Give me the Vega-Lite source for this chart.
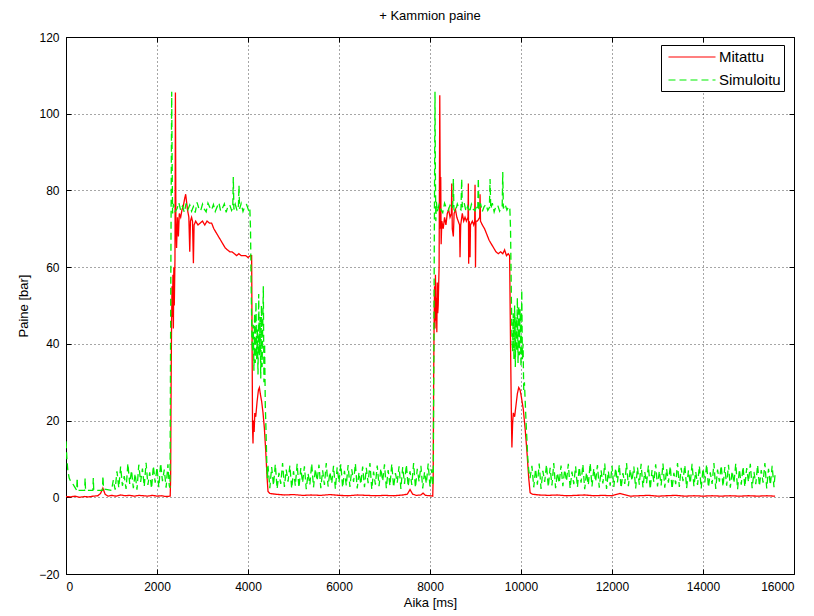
{
  "$schema": "https://vega.github.io/schema/vega-lite/v6.json",
  "width": 728,
  "height": 537,
  "autosize": {"type": "none"},
  "padding": {"left": 66, "top": 37, "right": 20, "bottom": 42},
  "background": "white",
  "title": {"text": "+ Kammion paine", "fontSize": 13, "fontWeight": "normal", "font": "Liberation Sans", "color": "black", "offset": 8},
  "config": {
    "view": {"stroke": "black", "strokeWidth": 1},
    "axis": {
      "domain": false,
      "tickColor": "black",
      "tickSize": -5,
      "labelPadding": 12,
      "labelFont": "Liberation Sans",
      "labelFontSize": 12,
      "labelColor": "black",
      "titleFont": "Liberation Sans",
      "titleFontSize": 13,
      "titleFontWeight": "normal",
      "titleColor": "black",
      "grid": true,
      "gridColor": "black",
      "gridDash": [1, 3],
      "gridOpacity": 0.7
    }
  },
  "data": {"values": [
    {"s":"Mitattu","t":0,"p":0.2},{"s":"Mitattu","t":100,"p":0.1},{"s":"Mitattu","t":200,"p":0.3},{"s":"Mitattu","t":300,"p":0.0},{"s":"Mitattu","t":400,"p":0.2},{"s":"Mitattu","t":500,"p":0.1},{"s":"Mitattu","t":600,"p":0.3},{"s":"Mitattu","t":700,"p":0.4},{"s":"Mitattu","t":760,"p":1.0},{"s":"Mitattu","t":810,"p":2.4},{"s":"Mitattu","t":860,"p":0.8},{"s":"Mitattu","t":920,"p":0.3},{"s":"Mitattu","t":1000,"p":0.5},{"s":"Mitattu","t":1100,"p":0.3},{"s":"Mitattu","t":1200,"p":0.6},{"s":"Mitattu","t":1300,"p":0.4},{"s":"Mitattu","t":1400,"p":0.5},{"s":"Mitattu","t":1500,"p":0.3},{"s":"Mitattu","t":1600,"p":0.5},{"s":"Mitattu","t":1700,"p":0.4},{"s":"Mitattu","t":1800,"p":0.3},{"s":"Mitattu","t":1900,"p":0.5},{"s":"Mitattu","t":2000,"p":0.3},{"s":"Mitattu","t":2100,"p":0.4},{"s":"Mitattu","t":2200,"p":0.2},{"s":"Mitattu","t":2290,"p":0.3},
    {"s":"Mitattu","t":2300,"p":5},{"s":"Mitattu","t":2310,"p":30},{"s":"Mitattu","t":2320,"p":45},{"s":"Mitattu","t":2330,"p":55},{"s":"Mitattu","t":2340,"p":47},{"s":"Mitattu","t":2350,"p":58},{"s":"Mitattu","t":2360,"p":44},{"s":"Mitattu","t":2370,"p":60},{"s":"Mitattu","t":2380,"p":50},{"s":"Mitattu","t":2395,"p":62},{"s":"Mitattu","t":2405,"p":105.5},{"s":"Mitattu","t":2415,"p":72},{"s":"Mitattu","t":2430,"p":65},{"s":"Mitattu","t":2450,"p":73},{"s":"Mitattu","t":2470,"p":68},{"s":"Mitattu","t":2490,"p":74},{"s":"Mitattu","t":2520,"p":73},{"s":"Mitattu","t":2550,"p":75},{"s":"Mitattu","t":2580,"p":76},{"s":"Mitattu","t":2610,"p":78},{"s":"Mitattu","t":2630,"p":79},{"s":"Mitattu","t":2650,"p":77},{"s":"Mitattu","t":2670,"p":75},{"s":"Mitattu","t":2700,"p":73},{"s":"Mitattu","t":2720,"p":64},{"s":"Mitattu","t":2735,"p":72},{"s":"Mitattu","t":2760,"p":73},{"s":"Mitattu","t":2780,"p":72},{"s":"Mitattu","t":2800,"p":61},{"s":"Mitattu","t":2815,"p":71},{"s":"Mitattu","t":2850,"p":72},{"s":"Mitattu","t":2900,"p":71},{"s":"Mitattu","t":2950,"p":71.5},{"s":"Mitattu","t":3000,"p":72},{"s":"Mitattu","t":3050,"p":71},{"s":"Mitattu","t":3100,"p":72},{"s":"Mitattu","t":3150,"p":71.5},{"s":"Mitattu","t":3200,"p":71.5},{"s":"Mitattu","t":3250,"p":70},{"s":"Mitattu","t":3300,"p":69},{"s":"Mitattu","t":3350,"p":68},{"s":"Mitattu","t":3400,"p":67},{"s":"Mitattu","t":3450,"p":66},{"s":"Mitattu","t":3500,"p":65},{"s":"Mitattu","t":3550,"p":64.5},{"s":"Mitattu","t":3600,"p":64},{"s":"Mitattu","t":3650,"p":64},{"s":"Mitattu","t":3700,"p":63.5},{"s":"Mitattu","t":3750,"p":63},{"s":"Mitattu","t":3800,"p":63.5},{"s":"Mitattu","t":3850,"p":63},{"s":"Mitattu","t":3900,"p":63},{"s":"Mitattu","t":3950,"p":63},{"s":"Mitattu","t":4000,"p":62.5},{"s":"Mitattu","t":4050,"p":63},{"s":"Mitattu","t":4080,"p":63},
    {"s":"Mitattu","t":4090,"p":40},{"s":"Mitattu","t":4100,"p":18},{"s":"Mitattu","t":4110,"p":14},{"s":"Mitattu","t":4120,"p":20},{"s":"Mitattu","t":4135,"p":17},{"s":"Mitattu","t":4150,"p":22},{"s":"Mitattu","t":4170,"p":21},{"s":"Mitattu","t":4200,"p":25},{"s":"Mitattu","t":4230,"p":28},{"s":"Mitattu","t":4250,"p":28.6},{"s":"Mitattu","t":4270,"p":27},{"s":"Mitattu","t":4300,"p":25},{"s":"Mitattu","t":4330,"p":22},{"s":"Mitattu","t":4360,"p":18},{"s":"Mitattu","t":4390,"p":12},{"s":"Mitattu","t":4420,"p":5},{"s":"Mitattu","t":4440,"p":1.5},{"s":"Mitattu","t":4480,"p":1.0},{"s":"Mitattu","t":4600,"p":0.8},{"s":"Mitattu","t":4800,"p":0.6},{"s":"Mitattu","t":5000,"p":0.7},{"s":"Mitattu","t":5200,"p":0.5},{"s":"Mitattu","t":5400,"p":0.6},{"s":"Mitattu","t":5600,"p":0.5},{"s":"Mitattu","t":5800,"p":0.7},{"s":"Mitattu","t":6000,"p":0.5},{"s":"Mitattu","t":6200,"p":0.4},{"s":"Mitattu","t":6400,"p":0.6},{"s":"Mitattu","t":6600,"p":0.5},{"s":"Mitattu","t":6800,"p":0.4},{"s":"Mitattu","t":7000,"p":0.5},{"s":"Mitattu","t":7200,"p":0.4},{"s":"Mitattu","t":7400,"p":0.6},{"s":"Mitattu","t":7500,"p":0.8},{"s":"Mitattu","t":7561,"p":2.0},{"s":"Mitattu","t":7620,"p":0.8},{"s":"Mitattu","t":7700,"p":0.5},{"s":"Mitattu","t":7800,"p":0.6},{"s":"Mitattu","t":7847,"p":1.1},{"s":"Mitattu","t":7900,"p":0.5},{"s":"Mitattu","t":8000,"p":0.4},{"s":"Mitattu","t":8060,"p":0.3},
    {"s":"Mitattu","t":8070,"p":5},{"s":"Mitattu","t":8080,"p":30},{"s":"Mitattu","t":8090,"p":45},{"s":"Mitattu","t":8100,"p":55},{"s":"Mitattu","t":8110,"p":44},{"s":"Mitattu","t":8120,"p":58},{"s":"Mitattu","t":8130,"p":46},{"s":"Mitattu","t":8140,"p":52},{"s":"Mitattu","t":8150,"p":43},{"s":"Mitattu","t":8160,"p":56},{"s":"Mitattu","t":8170,"p":48},{"s":"Mitattu","t":8180,"p":50},{"s":"Mitattu","t":8200,"p":60},{"s":"Mitattu","t":8215,"p":104.8},{"s":"Mitattu","t":8228,"p":70},{"s":"Mitattu","t":8236,"p":83.5},{"s":"Mitattu","t":8245,"p":66},{"s":"Mitattu","t":8260,"p":72},{"s":"Mitattu","t":8290,"p":70},{"s":"Mitattu","t":8320,"p":73},{"s":"Mitattu","t":8350,"p":71},{"s":"Mitattu","t":8380,"p":74},{"s":"Mitattu","t":8410,"p":75},{"s":"Mitattu","t":8440,"p":73},{"s":"Mitattu","t":8470,"p":74},{"s":"Mitattu","t":8478,"p":81.8},{"s":"Mitattu","t":8490,"p":70},{"s":"Mitattu","t":8513,"p":68},{"s":"Mitattu","t":8530,"p":74},{"s":"Mitattu","t":8560,"p":75},{"s":"Mitattu","t":8590,"p":73},{"s":"Mitattu","t":8620,"p":72},{"s":"Mitattu","t":8650,"p":71},{"s":"Mitattu","t":8660,"p":62.6},{"s":"Mitattu","t":8675,"p":71},{"s":"Mitattu","t":8710,"p":74},{"s":"Mitattu","t":8740,"p":72},{"s":"Mitattu","t":8770,"p":73},{"s":"Mitattu","t":8800,"p":72},{"s":"Mitattu","t":8835,"p":73},{"s":"Mitattu","t":8843,"p":81.8},{"s":"Mitattu","t":8850,"p":60.9},{"s":"Mitattu","t":8860,"p":72},{"s":"Mitattu","t":8872,"p":71},{"s":"Mitattu","t":8880,"p":62.6},{"s":"Mitattu","t":8890,"p":71},{"s":"Mitattu","t":8930,"p":72},{"s":"Mitattu","t":8960,"p":71},{"s":"Mitattu","t":8982,"p":72},{"s":"Mitattu","t":8990,"p":81.5},{"s":"Mitattu","t":9000,"p":60},{"s":"Mitattu","t":9010,"p":72},{"s":"Mitattu","t":9040,"p":72},{"s":"Mitattu","t":9070,"p":72.5},{"s":"Mitattu","t":9092,"p":73},{"s":"Mitattu","t":9100,"p":79},{"s":"Mitattu","t":9110,"p":72},{"s":"Mitattu","t":9150,"p":71},{"s":"Mitattu","t":9200,"p":70},{"s":"Mitattu","t":9250,"p":68.5},{"s":"Mitattu","t":9300,"p":67},{"s":"Mitattu","t":9350,"p":66},{"s":"Mitattu","t":9400,"p":65},{"s":"Mitattu","t":9450,"p":64},{"s":"Mitattu","t":9500,"p":63.5},{"s":"Mitattu","t":9550,"p":64},{"s":"Mitattu","t":9600,"p":63.5},{"s":"Mitattu","t":9640,"p":64.5},{"s":"Mitattu","t":9680,"p":63},{"s":"Mitattu","t":9720,"p":63.5},{"s":"Mitattu","t":9750,"p":63},
    {"s":"Mitattu","t":9770,"p":40},{"s":"Mitattu","t":9790,"p":20},{"s":"Mitattu","t":9800,"p":13},{"s":"Mitattu","t":9815,"p":19},{"s":"Mitattu","t":9830,"p":22},{"s":"Mitattu","t":9860,"p":21},{"s":"Mitattu","t":9890,"p":24},{"s":"Mitattu","t":9920,"p":27},{"s":"Mitattu","t":9950,"p":28.6},{"s":"Mitattu","t":9980,"p":28},{"s":"Mitattu","t":10010,"p":26},{"s":"Mitattu","t":10050,"p":23},{"s":"Mitattu","t":10090,"p":18},{"s":"Mitattu","t":10130,"p":12},{"s":"Mitattu","t":10170,"p":5},{"s":"Mitattu","t":10200,"p":1.2},{"s":"Mitattu","t":10250,"p":0.8},{"s":"Mitattu","t":10400,"p":0.6},{"s":"Mitattu","t":10600,"p":0.5},{"s":"Mitattu","t":10800,"p":0.6},{"s":"Mitattu","t":11000,"p":0.4},{"s":"Mitattu","t":11200,"p":0.5},{"s":"Mitattu","t":11400,"p":0.6},{"s":"Mitattu","t":11600,"p":0.4},{"s":"Mitattu","t":11800,"p":0.5},{"s":"Mitattu","t":12000,"p":0.4},{"s":"Mitattu","t":12175,"p":1.0},{"s":"Mitattu","t":12400,"p":0.3},{"s":"Mitattu","t":12600,"p":0.4},{"s":"Mitattu","t":12800,"p":0.5},{"s":"Mitattu","t":13000,"p":0.3},{"s":"Mitattu","t":13200,"p":0.4},{"s":"Mitattu","t":13400,"p":0.5},{"s":"Mitattu","t":13600,"p":0.3},{"s":"Mitattu","t":13800,"p":0.4},{"s":"Mitattu","t":14000,"p":0.3},{"s":"Mitattu","t":14200,"p":0.4},{"s":"Mitattu","t":14400,"p":0.3},{"s":"Mitattu","t":14600,"p":0.4},{"s":"Mitattu","t":14800,"p":0.3},{"s":"Mitattu","t":15000,"p":0.4},{"s":"Mitattu","t":15200,"p":0.3},{"s":"Mitattu","t":15400,"p":0.4},{"s":"Mitattu","t":15584,"p":0.3},

    {"s":"Simuloitu","t":0,"p":14.6},{"s":"Simuloitu","t":20,"p":10},{"s":"Simuloitu","t":40,"p":7},{"s":"Simuloitu","t":70,"p":5},{"s":"Simuloitu","t":100,"p":4.2},{"s":"Simuloitu","t":150,"p":3.5},{"s":"Simuloitu","t":200,"p":2.5},{"s":"Simuloitu","t":235,"p":1.8},{"s":"Simuloitu","t":245,"p":5},{"s":"Simuloitu","t":255,"p":1.8},{"s":"Simuloitu","t":410,"p":1.8},{"s":"Simuloitu","t":420,"p":5},{"s":"Simuloitu","t":430,"p":1.8},{"s":"Simuloitu","t":590,"p":1.8},{"s":"Simuloitu","t":600,"p":5},{"s":"Simuloitu","t":610,"p":1.8},{"s":"Simuloitu","t":800,"p":1.8},{"s":"Simuloitu","t":812,"p":5.5},{"s":"Simuloitu","t":825,"p":2.2},{"s":"Simuloitu","t":1000,"p":1.8},
    {"s":"Simuloitu","t":1040,"p":4.5},{"s":"Simuloitu","t":1080,"p":2.0},{"s":"Simuloitu","t":1120,"p":6.8},{"s":"Simuloitu","t":1160,"p":2.5},{"s":"Simuloitu","t":1200,"p":8.0},{"s":"Simuloitu","t":1240,"p":3.0},{"s":"Simuloitu","t":1280,"p":5.5},{"s":"Simuloitu","t":1320,"p":2.2},{"s":"Simuloitu","t":1360,"p":8.8},{"s":"Simuloitu","t":1400,"p":3.5},{"s":"Simuloitu","t":1440,"p":7.0},{"s":"Simuloitu","t":1480,"p":2.4},{"s":"Simuloitu","t":1520,"p":6.2},{"s":"Simuloitu","t":1560,"p":2.0},{"s":"Simuloitu","t":1600,"p":8.5},{"s":"Simuloitu","t":1640,"p":4.0},{"s":"Simuloitu","t":1680,"p":7.5},{"s":"Simuloitu","t":1720,"p":2.8},{"s":"Simuloitu","t":1760,"p":9.0},{"s":"Simuloitu","t":1800,"p":3.2},{"s":"Simuloitu","t":1840,"p":6.5},{"s":"Simuloitu","t":1880,"p":2.3},{"s":"Simuloitu","t":1920,"p":8.2},{"s":"Simuloitu","t":1960,"p":3.8},{"s":"Simuloitu","t":2000,"p":7.8},{"s":"Simuloitu","t":2040,"p":2.6},{"s":"Simuloitu","t":2080,"p":8.9},{"s":"Simuloitu","t":2120,"p":4.2},{"s":"Simuloitu","t":2160,"p":7.2},{"s":"Simuloitu","t":2200,"p":2.5},{"s":"Simuloitu","t":2240,"p":8.6},{"s":"Simuloitu","t":2270,"p":3.0},
    {"s":"Simuloitu","t":2286,"p":2.5},{"s":"Simuloitu","t":2295,"p":30},{"s":"Simuloitu","t":2303,"p":55},{"s":"Simuloitu","t":2312,"p":80},{"s":"Simuloitu","t":2323,"p":105.7},{"s":"Simuloitu","t":2332,"p":88},{"s":"Simuloitu","t":2342,"p":74},
    {"s":"Simuloitu","t":2360,"p":76.5},{"s":"Simuloitu","t":2400,"p":74.5},{"s":"Simuloitu","t":2440,"p":75.2},{"s":"Simuloitu","t":2480,"p":76.8},{"s":"Simuloitu","t":2520,"p":74.8},{"s":"Simuloitu","t":2560,"p":75.9},{"s":"Simuloitu","t":2600,"p":74.3},{"s":"Simuloitu","t":2640,"p":76.6},{"s":"Simuloitu","t":2680,"p":75.0},{"s":"Simuloitu","t":2720,"p":76.2},{"s":"Simuloitu","t":2760,"p":74.6},{"s":"Simuloitu","t":2800,"p":75.8},{"s":"Simuloitu","t":2840,"p":74.2},{"s":"Simuloitu","t":2880,"p":76.9},{"s":"Simuloitu","t":2920,"p":75.3},{"s":"Simuloitu","t":2960,"p":74.7},{"s":"Simuloitu","t":3000,"p":76.4},{"s":"Simuloitu","t":3040,"p":75.1},{"s":"Simuloitu","t":3080,"p":74.4},{"s":"Simuloitu","t":3120,"p":76.7},{"s":"Simuloitu","t":3160,"p":75.6},{"s":"Simuloitu","t":3200,"p":74.9},{"s":"Simuloitu","t":3240,"p":76.3},{"s":"Simuloitu","t":3280,"p":74.5},{"s":"Simuloitu","t":3320,"p":75.7},{"s":"Simuloitu","t":3360,"p":76.8},{"s":"Simuloitu","t":3400,"p":74.6},{"s":"Simuloitu","t":3440,"p":75.4},{"s":"Simuloitu","t":3480,"p":76.5},{"s":"Simuloitu","t":3520,"p":74.3},{"s":"Simuloitu","t":3560,"p":75.9},{"s":"Simuloitu","t":3600,"p":76.2},{"s":"Simuloitu","t":3640,"p":74.8},{"s":"Simuloitu","t":3665,"p":75.5},{"s":"Simuloitu","t":3677,"p":83.5},{"s":"Simuloitu","t":3690,"p":75.0},{"s":"Simuloitu","t":3720,"p":76.4},{"s":"Simuloitu","t":3760,"p":74.7},{"s":"Simuloitu","t":3790,"p":76.0},{"s":"Simuloitu","t":3802,"p":81.3},{"s":"Simuloitu","t":3815,"p":75.2},{"s":"Simuloitu","t":3850,"p":76.6},{"s":"Simuloitu","t":3890,"p":74.5},{"s":"Simuloitu","t":3930,"p":75.8},{"s":"Simuloitu","t":3970,"p":76.3},{"s":"Simuloitu","t":4010,"p":74.9},{"s":"Simuloitu","t":4040,"p":75.5},
    {"s":"Simuloitu","t":4055,"p":70},{"s":"Simuloitu","t":4070,"p":55},{"s":"Simuloitu","t":4085,"p":42},{"s":"Simuloitu","t":4100,"p":38},{"s":"Simuloitu","t":4115,"p":45},{"s":"Simuloitu","t":4130,"p":33},{"s":"Simuloitu","t":4145,"p":48},{"s":"Simuloitu","t":4160,"p":35},{"s":"Simuloitu","t":4175,"p":51},{"s":"Simuloitu","t":4190,"p":36},{"s":"Simuloitu","t":4205,"p":44},{"s":"Simuloitu","t":4220,"p":32},{"s":"Simuloitu","t":4235,"p":53},{"s":"Simuloitu","t":4250,"p":37},{"s":"Simuloitu","t":4265,"p":47},{"s":"Simuloitu","t":4280,"p":31},{"s":"Simuloitu","t":4295,"p":50},{"s":"Simuloitu","t":4310,"p":34},{"s":"Simuloitu","t":4325,"p":46},{"s":"Simuloitu","t":4337,"p":55},{"s":"Simuloitu","t":4350,"p":30},{"s":"Simuloitu","t":4365,"p":40},{"s":"Simuloitu","t":4380,"p":24},{"s":"Simuloitu","t":4395,"p":18},{"s":"Simuloitu","t":4411,"p":10},{"s":"Simuloitu","t":4425,"p":5},{"s":"Simuloitu","t":4440,"p":8.2},
    {"s":"Simuloitu","t":4480,"p":2.4},{"s":"Simuloitu","t":4520,"p":7.9},{"s":"Simuloitu","t":4560,"p":3.1},{"s":"Simuloitu","t":4600,"p":8.6},{"s":"Simuloitu","t":4640,"p":2.2},{"s":"Simuloitu","t":4680,"p":6.4},{"s":"Simuloitu","t":4720,"p":3.5},{"s":"Simuloitu","t":4760,"p":8.9},{"s":"Simuloitu","t":4800,"p":2.7},{"s":"Simuloitu","t":4840,"p":7.2},{"s":"Simuloitu","t":4880,"p":4.1},{"s":"Simuloitu","t":4920,"p":8.3},{"s":"Simuloitu","t":4960,"p":2.3},{"s":"Simuloitu","t":5000,"p":6.8},{"s":"Simuloitu","t":5040,"p":3.0},{"s":"Simuloitu","t":5080,"p":8.7},{"s":"Simuloitu","t":5120,"p":2.5},{"s":"Simuloitu","t":5160,"p":7.6},{"s":"Simuloitu","t":5200,"p":3.8},{"s":"Simuloitu","t":5240,"p":8.1},{"s":"Simuloitu","t":5280,"p":2.1},{"s":"Simuloitu","t":5320,"p":6.2},{"s":"Simuloitu","t":5360,"p":3.3},{"s":"Simuloitu","t":5400,"p":8.8},{"s":"Simuloitu","t":5440,"p":2.6},{"s":"Simuloitu","t":5480,"p":7.4},{"s":"Simuloitu","t":5520,"p":4.3},{"s":"Simuloitu","t":5560,"p":8.5},{"s":"Simuloitu","t":5600,"p":2.4},{"s":"Simuloitu","t":5640,"p":7.0},{"s":"Simuloitu","t":5680,"p":3.2},{"s":"Simuloitu","t":5720,"p":8.9},{"s":"Simuloitu","t":5760,"p":2.8},{"s":"Simuloitu","t":5800,"p":6.6},{"s":"Simuloitu","t":5840,"p":3.6},{"s":"Simuloitu","t":5880,"p":8.2},{"s":"Simuloitu","t":5920,"p":2.2},{"s":"Simuloitu","t":5960,"p":7.8},{"s":"Simuloitu","t":6000,"p":3.9},{"s":"Simuloitu","t":6040,"p":8.6},{"s":"Simuloitu","t":6080,"p":2.5},{"s":"Simuloitu","t":6120,"p":6.9},{"s":"Simuloitu","t":6160,"p":3.1},{"s":"Simuloitu","t":6200,"p":8.4},{"s":"Simuloitu","t":6240,"p":2.7},{"s":"Simuloitu","t":6280,"p":7.3},{"s":"Simuloitu","t":6320,"p":4.0},{"s":"Simuloitu","t":6360,"p":8.8},{"s":"Simuloitu","t":6400,"p":2.3},{"s":"Simuloitu","t":6440,"p":6.5},{"s":"Simuloitu","t":6480,"p":3.4},{"s":"Simuloitu","t":6520,"p":8.0},{"s":"Simuloitu","t":6560,"p":2.6},{"s":"Simuloitu","t":6600,"p":7.7},{"s":"Simuloitu","t":6640,"p":3.7},{"s":"Simuloitu","t":6680,"p":8.9},{"s":"Simuloitu","t":6720,"p":2.1},{"s":"Simuloitu","t":6760,"p":6.7},{"s":"Simuloitu","t":6800,"p":3.3},{"s":"Simuloitu","t":6840,"p":8.3},{"s":"Simuloitu","t":6880,"p":2.9},{"s":"Simuloitu","t":6920,"p":7.5},{"s":"Simuloitu","t":6960,"p":4.2},{"s":"Simuloitu","t":7000,"p":8.6},{"s":"Simuloitu","t":7040,"p":2.4},{"s":"Simuloitu","t":7080,"p":7.1},{"s":"Simuloitu","t":7120,"p":3.0},{"s":"Simuloitu","t":7160,"p":8.7},{"s":"Simuloitu","t":7200,"p":2.6},{"s":"Simuloitu","t":7240,"p":6.3},{"s":"Simuloitu","t":7280,"p":3.8},{"s":"Simuloitu","t":7320,"p":8.1},{"s":"Simuloitu","t":7360,"p":2.2},{"s":"Simuloitu","t":7400,"p":7.9},{"s":"Simuloitu","t":7440,"p":3.5},{"s":"Simuloitu","t":7480,"p":8.5},{"s":"Simuloitu","t":7520,"p":2.8},{"s":"Simuloitu","t":7560,"p":6.8},{"s":"Simuloitu","t":7600,"p":3.2},{"s":"Simuloitu","t":7640,"p":8.9},{"s":"Simuloitu","t":7680,"p":2.5},{"s":"Simuloitu","t":7720,"p":7.4},{"s":"Simuloitu","t":7760,"p":4.1},{"s":"Simuloitu","t":7800,"p":8.2},{"s":"Simuloitu","t":7840,"p":2.3},{"s":"Simuloitu","t":7880,"p":6.6},{"s":"Simuloitu","t":7920,"p":3.6},{"s":"Simuloitu","t":7960,"p":8.8},{"s":"Simuloitu","t":8000,"p":2.7},{"s":"Simuloitu","t":8040,"p":7.3},
    {"s":"Simuloitu","t":8060,"p":3.0},{"s":"Simuloitu","t":8073,"p":6},{"s":"Simuloitu","t":8085,"p":40},{"s":"Simuloitu","t":8095,"p":68},{"s":"Simuloitu","t":8103,"p":90},{"s":"Simuloitu","t":8110,"p":105.7},{"s":"Simuloitu","t":8118,"p":85},{"s":"Simuloitu","t":8128,"p":72},{"s":"Simuloitu","t":8140,"p":77},
    {"s":"Simuloitu","t":8160,"p":74.5},{"s":"Simuloitu","t":8200,"p":76.3},{"s":"Simuloitu","t":8240,"p":75.0},{"s":"Simuloitu","t":8280,"p":74.2},{"s":"Simuloitu","t":8320,"p":76.7},{"s":"Simuloitu","t":8360,"p":75.4},{"s":"Simuloitu","t":8400,"p":74.8},{"s":"Simuloitu","t":8440,"p":76.1},{"s":"Simuloitu","t":8480,"p":75.2},{"s":"Simuloitu","t":8500,"p":76.0},{"s":"Simuloitu","t":8513,"p":83.0},{"s":"Simuloitu","t":8526,"p":75.0},{"s":"Simuloitu","t":8560,"p":74.4},{"s":"Simuloitu","t":8600,"p":76.5},{"s":"Simuloitu","t":8640,"p":75.3},{"s":"Simuloitu","t":8680,"p":74.9},{"s":"Simuloitu","t":8697,"p":83.0},{"s":"Simuloitu","t":8710,"p":75.6},{"s":"Simuloitu","t":8750,"p":76.8},{"s":"Simuloitu","t":8790,"p":74.6},{"s":"Simuloitu","t":8830,"p":75.9},{"s":"Simuloitu","t":8870,"p":74.3},{"s":"Simuloitu","t":8910,"p":76.4},{"s":"Simuloitu","t":8950,"p":75.1},{"s":"Simuloitu","t":8990,"p":74.7},{"s":"Simuloitu","t":9030,"p":76.2},{"s":"Simuloitu","t":9050,"p":75.4},{"s":"Simuloitu","t":9062,"p":83.2},{"s":"Simuloitu","t":9075,"p":75.0},{"s":"Simuloitu","t":9110,"p":76.6},{"s":"Simuloitu","t":9150,"p":74.5},{"s":"Simuloitu","t":9190,"p":75.8},{"s":"Simuloitu","t":9230,"p":76.3},{"s":"Simuloitu","t":9270,"p":74.8},{"s":"Simuloitu","t":9305,"p":75.5},{"s":"Simuloitu","t":9320,"p":83.0},{"s":"Simuloitu","t":9335,"p":75.2},{"s":"Simuloitu","t":9370,"p":76.7},{"s":"Simuloitu","t":9410,"p":74.4},{"s":"Simuloitu","t":9450,"p":75.9},{"s":"Simuloitu","t":9490,"p":76.1},{"s":"Simuloitu","t":9530,"p":74.6},{"s":"Simuloitu","t":9570,"p":75.7},{"s":"Simuloitu","t":9587,"p":76.0},{"s":"Simuloitu","t":9599,"p":84.8},{"s":"Simuloitu","t":9612,"p":75.3},{"s":"Simuloitu","t":9650,"p":76.4},{"s":"Simuloitu","t":9690,"p":74.9},{"s":"Simuloitu","t":9730,"p":75.8},{"s":"Simuloitu","t":9755,"p":75.2},
    {"s":"Simuloitu","t":9770,"p":70},{"s":"Simuloitu","t":9785,"p":55},{"s":"Simuloitu","t":9800,"p":42},{"s":"Simuloitu","t":9815,"p":38},{"s":"Simuloitu","t":9830,"p":48},{"s":"Simuloitu","t":9845,"p":36},{"s":"Simuloitu","t":9860,"p":50},{"s":"Simuloitu","t":9875,"p":34},{"s":"Simuloitu","t":9890,"p":47},{"s":"Simuloitu","t":9905,"p":38},{"s":"Simuloitu","t":9920,"p":52},{"s":"Simuloitu","t":9935,"p":35},{"s":"Simuloitu","t":9950,"p":50},{"s":"Simuloitu","t":9965,"p":37},{"s":"Simuloitu","t":9980,"p":49},{"s":"Simuloitu","t":10000,"p":34},{"s":"Simuloitu","t":10017,"p":54},{"s":"Simuloitu","t":10030,"p":36},{"s":"Simuloitu","t":10045,"p":40},{"s":"Simuloitu","t":10060,"p":28},{"s":"Simuloitu","t":10075,"p":30},{"s":"Simuloitu","t":10089,"p":26},{"s":"Simuloitu","t":10110,"p":20},{"s":"Simuloitu","t":10130,"p":15},{"s":"Simuloitu","t":10150,"p":10},{"s":"Simuloitu","t":10170,"p":7},{"s":"Simuloitu","t":10199,"p":5},
    {"s":"Simuloitu","t":10240,"p":8.2},{"s":"Simuloitu","t":10280,"p":2.6},{"s":"Simuloitu","t":10320,"p":7.4},{"s":"Simuloitu","t":10360,"p":3.3},{"s":"Simuloitu","t":10400,"p":8.8},{"s":"Simuloitu","t":10440,"p":2.2},{"s":"Simuloitu","t":10480,"p":6.9},{"s":"Simuloitu","t":10520,"p":4.0},{"s":"Simuloitu","t":10560,"p":8.5},{"s":"Simuloitu","t":10600,"p":2.7},{"s":"Simuloitu","t":10640,"p":7.7},{"s":"Simuloitu","t":10680,"p":3.1},{"s":"Simuloitu","t":10720,"p":8.9},{"s":"Simuloitu","t":10760,"p":2.4},{"s":"Simuloitu","t":10800,"p":6.4},{"s":"Simuloitu","t":10840,"p":3.7},{"s":"Simuloitu","t":10880,"p":8.3},{"s":"Simuloitu","t":10920,"p":2.9},{"s":"Simuloitu","t":10960,"p":7.2},{"s":"Simuloitu","t":11000,"p":4.2},{"s":"Simuloitu","t":11040,"p":8.7},{"s":"Simuloitu","t":11080,"p":2.3},{"s":"Simuloitu","t":11120,"p":6.7},{"s":"Simuloitu","t":11160,"p":3.4},{"s":"Simuloitu","t":11200,"p":8.1},{"s":"Simuloitu","t":11240,"p":2.6},{"s":"Simuloitu","t":11280,"p":7.9},{"s":"Simuloitu","t":11320,"p":3.8},{"s":"Simuloitu","t":11360,"p":8.6},{"s":"Simuloitu","t":11400,"p":2.1},{"s":"Simuloitu","t":11440,"p":6.5},{"s":"Simuloitu","t":11480,"p":3.2},{"s":"Simuloitu","t":11520,"p":8.9},{"s":"Simuloitu","t":11560,"p":2.8},{"s":"Simuloitu","t":11600,"p":7.5},{"s":"Simuloitu","t":11640,"p":4.1},{"s":"Simuloitu","t":11680,"p":8.4},{"s":"Simuloitu","t":11720,"p":2.5},{"s":"Simuloitu","t":11760,"p":7.0},{"s":"Simuloitu","t":11800,"p":3.6},{"s":"Simuloitu","t":11840,"p":8.8},{"s":"Simuloitu","t":11880,"p":2.2},{"s":"Simuloitu","t":11920,"p":6.8},{"s":"Simuloitu","t":11960,"p":3.0},{"s":"Simuloitu","t":12000,"p":8.2},{"s":"Simuloitu","t":12040,"p":2.7},{"s":"Simuloitu","t":12080,"p":7.6},{"s":"Simuloitu","t":12120,"p":3.9},{"s":"Simuloitu","t":12160,"p":8.5},{"s":"Simuloitu","t":12200,"p":2.4},{"s":"Simuloitu","t":12240,"p":6.3},{"s":"Simuloitu","t":12280,"p":3.5},{"s":"Simuloitu","t":12320,"p":8.9},{"s":"Simuloitu","t":12360,"p":2.9},{"s":"Simuloitu","t":12400,"p":7.3},{"s":"Simuloitu","t":12440,"p":4.3},{"s":"Simuloitu","t":12480,"p":8.0},{"s":"Simuloitu","t":12520,"p":2.3},{"s":"Simuloitu","t":12560,"p":7.8},{"s":"Simuloitu","t":12600,"p":3.3},{"s":"Simuloitu","t":12640,"p":8.7},{"s":"Simuloitu","t":12680,"p":2.6},{"s":"Simuloitu","t":12720,"p":6.6},{"s":"Simuloitu","t":12760,"p":3.7},{"s":"Simuloitu","t":12800,"p":8.3},{"s":"Simuloitu","t":12840,"p":2.1},{"s":"Simuloitu","t":12880,"p":7.1},{"s":"Simuloitu","t":12920,"p":4.0},{"s":"Simuloitu","t":12960,"p":8.6},{"s":"Simuloitu","t":13000,"p":2.8},{"s":"Simuloitu","t":13040,"p":6.9},{"s":"Simuloitu","t":13080,"p":3.1},{"s":"Simuloitu","t":13120,"p":8.8},{"s":"Simuloitu","t":13160,"p":2.5},{"s":"Simuloitu","t":13200,"p":7.4},{"s":"Simuloitu","t":13240,"p":3.8},{"s":"Simuloitu","t":13280,"p":8.1},{"s":"Simuloitu","t":13320,"p":2.2},{"s":"Simuloitu","t":13360,"p":6.4},{"s":"Simuloitu","t":13400,"p":3.4},{"s":"Simuloitu","t":13440,"p":8.9},{"s":"Simuloitu","t":13480,"p":2.7},{"s":"Simuloitu","t":13520,"p":7.7},{"s":"Simuloitu","t":13560,"p":4.2},{"s":"Simuloitu","t":13600,"p":8.4},{"s":"Simuloitu","t":13640,"p":2.4},{"s":"Simuloitu","t":13680,"p":7.0},{"s":"Simuloitu","t":13720,"p":3.6},{"s":"Simuloitu","t":13760,"p":8.7},{"s":"Simuloitu","t":13800,"p":2.9},{"s":"Simuloitu","t":13840,"p":6.7},{"s":"Simuloitu","t":13880,"p":3.2},{"s":"Simuloitu","t":13920,"p":8.2},{"s":"Simuloitu","t":13960,"p":2.3},{"s":"Simuloitu","t":14000,"p":7.5},{"s":"Simuloitu","t":14040,"p":3.9},{"s":"Simuloitu","t":14080,"p":8.6},{"s":"Simuloitu","t":14120,"p":2.6},{"s":"Simuloitu","t":14160,"p":6.5},{"s":"Simuloitu","t":14200,"p":3.5},{"s":"Simuloitu","t":14240,"p":8.9},{"s":"Simuloitu","t":14280,"p":2.2},{"s":"Simuloitu","t":14320,"p":7.2},{"s":"Simuloitu","t":14360,"p":4.1},{"s":"Simuloitu","t":14400,"p":8.3},{"s":"Simuloitu","t":14440,"p":2.8},{"s":"Simuloitu","t":14480,"p":7.9},{"s":"Simuloitu","t":14520,"p":3.0},{"s":"Simuloitu","t":14560,"p":8.5},{"s":"Simuloitu","t":14600,"p":2.5},{"s":"Simuloitu","t":14640,"p":6.8},{"s":"Simuloitu","t":14680,"p":3.7},{"s":"Simuloitu","t":14720,"p":8.8},{"s":"Simuloitu","t":14760,"p":2.1},{"s":"Simuloitu","t":14800,"p":7.3},{"s":"Simuloitu","t":14840,"p":3.3},{"s":"Simuloitu","t":14880,"p":8.0},{"s":"Simuloitu","t":14920,"p":2.7},{"s":"Simuloitu","t":14960,"p":7.6},{"s":"Simuloitu","t":15000,"p":4.0},{"s":"Simuloitu","t":15040,"p":8.7},{"s":"Simuloitu","t":15080,"p":2.4},{"s":"Simuloitu","t":15120,"p":6.6},{"s":"Simuloitu","t":15160,"p":3.4},{"s":"Simuloitu","t":15200,"p":8.4},{"s":"Simuloitu","t":15240,"p":2.9},{"s":"Simuloitu","t":15280,"p":7.1},{"s":"Simuloitu","t":15320,"p":3.8},{"s":"Simuloitu","t":15360,"p":8.9},{"s":"Simuloitu","t":15400,"p":2.3},{"s":"Simuloitu","t":15440,"p":7.4},{"s":"Simuloitu","t":15480,"p":3.2},{"s":"Simuloitu","t":15520,"p":8.2},{"s":"Simuloitu","t":15560,"p":2.6},{"s":"Simuloitu","t":15584,"p":6.0}
  ]},
  "layer": [
    {
      "mark": {"type": "line", "strokeWidth": 1.3, "clip": true},
      "encoding": {
        "x": {"field": "t", "type": "quantitative", "scale": {"domain": [0, 16000], "nice": false, "zero": false},
              "axis": {"title": "Aika [ms]", "values": [0, 2000, 4000, 6000, 8000, 10000, 12000, 14000, 16000], "format": "d", "titlePadding": 4}},
        "y": {"field": "p", "type": "quantitative", "scale": {"domain": [-20, 120], "nice": false, "zero": false},
              "axis": {"title": "Paine [bar]", "values": [-20, 0, 20, 40, 60, 80, 100, 120], "format": "d", "titlePadding": 8}},
        "color": {"field": "s", "type": "nominal", "scale": {"domain": ["Mitattu", "Simuloitu"], "range": ["#ff0000", "#00ee00"]},
                  "legend": {"title": null, "orient": "none", "legendX": 595, "legendY": 8, "strokeColor": "black", "fillColor": "white", "padding": 3, "symbolType": "M-2.94,0H2.94", "symbolSize": 256, "symbolOffset": 19, "symbolStrokeWidth": 1.2, "labelFont": "Liberation Sans", "labelFontSize": 15, "labelColor": "black", "labelOffset": 18, "rowPadding": 6, "cornerRadius": 0}},
        "strokeDash": {"field": "s", "type": "nominal", "scale": {"domain": ["Mitattu", "Simuloitu"], "range": [[1, 0], [7, 4]]},
                  "legend": {"title": null, "orient": "none", "legendX": 595, "legendY": 8, "strokeColor": "black", "fillColor": "white", "padding": 3, "symbolType": "M-2.94,0H2.94", "symbolSize": 256, "symbolOffset": 19, "symbolStrokeWidth": 1.2, "labelFont": "Liberation Sans", "labelFontSize": 15, "labelColor": "black", "labelOffset": 18, "rowPadding": 6, "cornerRadius": 0}}
      }
    },
    {
      "data": {"values": [{"t": 0, "p": 0}]},
      "mark": {"type": "point", "opacity": 0},
      "encoding": {
        "x": {"field": "t", "type": "quantitative", "scale": {"domain": [0, 16000], "nice": false, "zero": false},
              "axis": {"orient": "top", "labels": false, "title": null, "grid": false, "values": [0, 2000, 4000, 6000, 8000, 10000, 12000, 14000, 16000]}},
        "y": {"field": "p", "type": "quantitative", "scale": {"domain": [-20, 120], "nice": false, "zero": false},
              "axis": {"orient": "right", "labels": false, "title": null, "grid": false, "values": [-20, 0, 20, 40, 60, 80, 100, 120]}}
      }
    }
  ],
  "resolve": {"axis": {"x": "independent", "y": "independent"}}
}
